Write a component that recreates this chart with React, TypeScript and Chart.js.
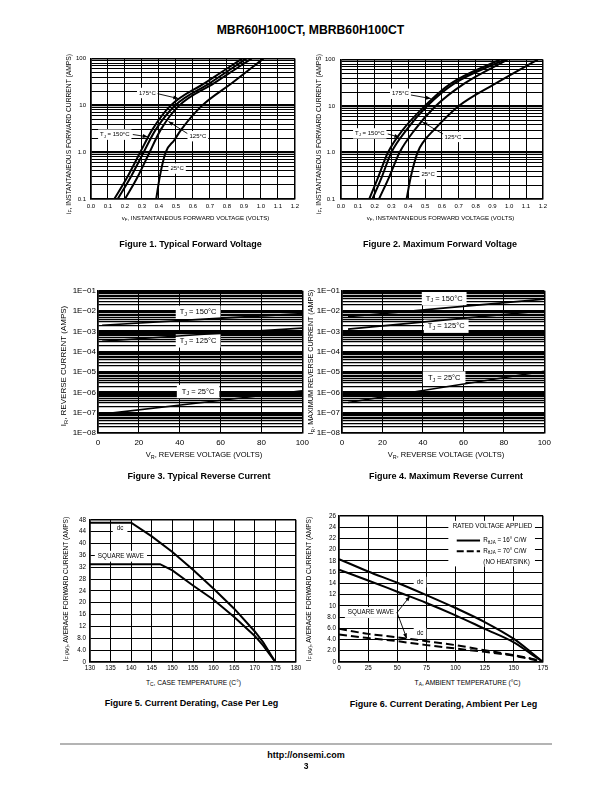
import React, { useEffect, useRef } from 'react';
import { Chart, registerables } from 'chart.js';

Chart.register(...registerables);

const FONT = '"Liberation Sans", Arial, Helvetica, sans-serif';

// ---------------- Figure 1: typical forward voltage ----------------
const FWD_CURRENT = [0.1, 0.3, 1, 3, 10, 30, 100];
const TYP_VF_175 = [0.137, 0.215, 0.29, 0.36, 0.47, 0.67, 0.89];
const TYP_VF_150 = [0.157, 0.235, 0.31, 0.38, 0.495, 0.7, 0.915];
const TYP_VF_125 = [0.2, 0.275, 0.345, 0.41, 0.52, 0.725, 0.945];
const TYP_CURRENT_25 = [0.1, 0.3, 1, 1.8, 3, 10, 30, 100];
const TYP_VF_25 = [0.384, 0.405, 0.44, 0.49, 0.53, 0.655, 0.83, 1.015];

// ---------------- Figure 2: maximum forward voltage ----------------
const MAX_VF_175 = [0.168, 0.222, 0.279, 0.365, 0.498, 0.65, 0.944];
const MAX_VF_150 = [0.187, 0.243, 0.299, 0.387, 0.512, 0.67, 0.973];
const MAX_VF_125 = [0.226, 0.287, 0.348, 0.436, 0.563, 0.73, 0.99];
const MAX_CURRENT_25 = [0.1, 0.3, 1, 1.7, 3, 10, 30, 100];
const MAX_VF_25 = [0.39, 0.415, 0.455, 0.49, 0.55, 0.7, 0.915, 1.17];

const VF_TICKS = [0, 0.1, 0.2, 0.3, 0.4, 0.5, 0.6, 0.7, 0.8, 0.9, 1.0, 1.1, 1.2];
const VF_TICK_LABELS = ['0.0', '0.1', '0.2', '0.3', '0.4', '0.5', '0.6', '0.7', '0.8', '0.9', '1.0', '1.1', '1.2'];
const IF_DECADES = [0.1, 1, 10, 100];
const IF_DECADE_LABELS = ['0.1', '1.0', '10', '100'];

// ---------------- Figure 3: typical reverse current ----------------
const TYP_VR = [2, 50, 100];
const TYP_IR_150 = [2.0e-3, 3.9e-3, 7.5e-3];
const TYP_IR_125 = [3.3e-4, 7.0e-4, 1.45e-3];
const TYP_IR_25 = [8.5e-8, 3.1e-7, 1.2e-6];

// ---------------- Figure 4: maximum reverse current ----------------
const MAX_VR = [3, 50, 100];
const MAX_IR_150 = [5.3e-3, 1.4e-2, 3.9e-2];
const MAX_IR_125 = [1.3e-3, 3.6e-3, 1.05e-2];
const MAX_IR_25 = [3.2e-7, 1.8e-6, 1.1e-5];

const VR_TICKS = [0, 20, 40, 60, 80, 100];
const VR_TICK_LABELS = ['0', '20', '40', '60', '80', '100'];
const IR_DECADES = [1e-8, 1e-7, 1e-6, 1e-5, 1e-4, 1e-3, 1e-2, 1e-1];
const IR_DECADE_LABELS = ['1E\u221208', '1E\u221207', '1E\u221206', '1E\u221205', '1E\u221204', '1E\u221203', '1E\u221202', '1E\u221201'];

// ---------------- Figure 5: derating, case ----------------
const CASE_TEMP_DC = [130, 140, 145, 150, 155, 160, 165, 170, 172, 175];
const CASE_IF_DC = [47, 47, 42.4, 37.1, 31.1, 24.7, 18, 10.3, 6.7, 0];
const CASE_TEMP_SQ = [130, 147, 150, 155, 160, 165, 170, 172, 175];
const CASE_IF_SQ = [33, 33, 30.9, 25.8, 21, 15.2, 8.8, 5.6, 0];
const CASE_T_TICKS = [130, 135, 140, 145, 150, 155, 160, 165, 170, 175, 180];
const CASE_T_LABELS = ['130', '135', '140', '145', '150', '155', '160', '165', '170', '175', '180'];
const CASE_I_TICKS = [0, 4, 8, 12, 16, 20, 24, 28, 32, 36, 40, 44, 48];
const CASE_I_LABELS = ['0', '4.0', '8.0', '12', '16', '20', '24', '28', '32', '36', '40', '44', '48'];

// ---------------- Figure 6: derating, ambient ----------------
const AMB_TEMP = [0, 25, 50, 75, 100, 125, 150, 165, 175];
const AMB_DC_16 = [18.3, 16.1, 14.1, 11.9, 9.6, 7.1, 4.1, 1.7, 0];
const AMB_SQ_16 = [16.4, 14.5, 12.5, 10.5, 8.3, 5.9, 3.5, 1.4, 0];
const AMB_DC_70 = [5.9, 5.0, 4.4, 3.7, 3.0, 2.1, 1.2, 0.6, 0];
const AMB_SQ_70 = [4.9, 4.25, 3.7, 3.0, 2.4, 1.8, 1.1, 0.5, 0];
const AMB_T_TICKS = [0, 25, 50, 75, 100, 125, 150, 175];
const AMB_T_LABELS = ['0', '25', '50', '75', '100', '125', '150', '175'];
const AMB_I_TICKS = [0, 2, 4, 6, 8, 10, 12, 14, 16, 18, 20, 22, 24, 26];
const AMB_I_LABELS = ['0', '2.0', '4.0', '6.0', '8.0', '10', '12', '14', '16', '18', '20', '22', '24', '26'];

// ------------------------------------------------------------------
type Part = { t: string; sub?: boolean };
type Label = { x: number; y: number; parts: Part[]; size: number; align?: 'left' | 'center'; box?: boolean; padX?: number; padY?: number };
type Arrow = { x1: number; y1: number; x2: number; y2: number };
type Seg = { x1: number; y1: number; x2: number; y2: number; dash?: number[]; width?: number };
type Rect = { x1: number; y1: number; x2: number; y2: number };
type Notes = { labels?: Label[]; arrows?: Arrow[]; segs?: Seg[]; rects?: Rect[] };

const P = (t: string, sub = false): Part => ({ t, sub });

function partFont(p: Part, size: number) {
  return `${p.sub ? size * 0.72 : size}px ${FONT}`;
}
function measure(ctx: CanvasRenderingContext2D, parts: Part[], size: number) {
  let w = 0;
  for (const p of parts) {
    ctx.font = partFont(p, size);
    w += ctx.measureText(p.t).width;
  }
  return w;
}

function notesPlugin(spec: Notes) {
  return {
    id: 'notes',
    beforeDatasetsDraw(chart: any) {
      const ctx: CanvasRenderingContext2D = chart.ctx;
      const X = chart.scales.x, Y = chart.scales.y;
      ctx.save();
      ctx.fillStyle = '#fff';
      for (const r of spec.rects || []) {
        const x1 = X.getPixelForValue(r.x1), x2 = X.getPixelForValue(r.x2);
        const y1 = Y.getPixelForValue(r.y1), y2 = Y.getPixelForValue(r.y2);
        ctx.fillRect(Math.min(x1, x2), Math.min(y1, y2), Math.abs(x2 - x1), Math.abs(y2 - y1));
      }
      for (const l of spec.labels || []) {
        if (l.box === false) continue;
        const w = measure(ctx, l.parts, l.size);
        const cx = X.getPixelForValue(l.x), cy = Y.getPixelForValue(l.y);
        const px = l.padX ?? 2, py = l.padY ?? 1.5;
        const left = l.align === 'left' ? cx : cx - w / 2;
        ctx.fillRect(left - px, cy - l.size * 0.62 - py, w + 2 * px, l.size * 1.24 + 2 * py);
      }
      ctx.restore();
    },
    afterDatasetsDraw(chart: any) {
      const ctx: CanvasRenderingContext2D = chart.ctx;
      const X = chart.scales.x, Y = chart.scales.y;
      ctx.save();
      ctx.strokeStyle = '#000';
      ctx.fillStyle = '#000';
      for (const s of spec.segs || []) {
        ctx.beginPath();
        ctx.setLineDash(s.dash || []);
        ctx.lineWidth = s.width ?? 2;
        ctx.moveTo(X.getPixelForValue(s.x1), Y.getPixelForValue(s.y1));
        ctx.lineTo(X.getPixelForValue(s.x2), Y.getPixelForValue(s.y2));
        ctx.stroke();
      }
      ctx.setLineDash([]);
      for (const a of spec.arrows || []) {
        const x1 = X.getPixelForValue(a.x1), y1 = Y.getPixelForValue(a.y1);
        const x2 = X.getPixelForValue(a.x2), y2 = Y.getPixelForValue(a.y2);
        ctx.lineWidth = 0.9;
        ctx.beginPath();
        ctx.moveTo(x1, y1);
        ctx.lineTo(x2, y2);
        ctx.stroke();
        const ang = Math.atan2(y2 - y1, x2 - x1);
        const L = 5, W = 2;
        const c = Math.cos(ang), s = Math.sin(ang);
        ctx.beginPath();
        ctx.moveTo(x2, y2);
        ctx.lineTo(x2 - L * c + W * s, y2 - L * s - W * c);
        ctx.lineTo(x2 - L * c - W * s, y2 - L * s + W * c);
        ctx.closePath();
        ctx.fill();
      }
      ctx.textBaseline = 'middle';
      ctx.textAlign = 'left';
      for (const l of spec.labels || []) {
        const w = measure(ctx, l.parts, l.size);
        const cx = X.getPixelForValue(l.x), cy = Y.getPixelForValue(l.y);
        let x = l.align === 'left' ? cx : cx - w / 2;
        for (const p of l.parts) {
          ctx.font = partFont(p, l.size);
          ctx.fillText(p.t, x, p.sub ? cy + l.size * 0.3 : cy);
          x += ctx.measureText(p.t).width;
        }
      }
      ctx.restore();
    },
  };
}

type Frame = { L: number; T: number; W: number; H: number; pl: number; pt: number; pr: number; pb: number };

function logGrid(decades: number[], labels: string[]) {
  const ticks: number[] = [];
  const lab: string[] = [];
  for (let d = 0; d < decades.length - 1; d++) {
    for (let m = 1; m <= 9; m++) {
      ticks.push(decades[d] * m);
      lab.push(m === 1 ? labels[d] : '');
    }
  }
  ticks.push(decades[decades.length - 1]);
  lab.push(labels[labels.length - 1]);
  return { ticks, labels: lab };
}

function isDecade(v: number) {
  const l = Math.log10(v);
  return Math.abs(l - Math.round(l)) < 1e-6;
}

function axis(o: {
  type: 'linear' | 'logarithmic';
  min: number;
  max: number;
  ticks: number[];
  labels: string[];
  size: number;
  pad: number;
  fit: (s: any) => void;
  width?: (v: number) => number;
}) {
  return {
    type: o.type,
    min: o.min,
    max: o.max,
    afterBuildTicks: (s: any) => {
      s.ticks = o.ticks.map((v) => ({ value: v }));
    },
    afterFit: o.fit,
    ticks: {
      autoSkip: false,
      maxRotation: 0,
      minRotation: 0,
      padding: o.pad,
      color: '#000',
      font: { family: FONT, size: o.size },
      callback: (_v: any, i: number) => o.labels[i] ?? '',
    },
    grid: {
      color: '#000',
      drawTicks: false,
      lineWidth: (ctx: any) => {
        const v = ctx.tick ? ctx.tick.value : NaN;
        if (Math.abs(v - o.min) < 1e-12 || Math.abs(v - o.max) < 1e-12) return 1.5;
        return o.width ? o.width(v) : 1;
      },
    },
    border: { color: '#000', width: 1.5 },
  };
}

const curve = (xs: number[], ys: number[], extra: any = {}) => ({
  data: xs.map((x, i) => ({ x, y: ys[i] })),
  borderColor: '#000',
  borderWidth: 2,
  pointRadius: 0,
  fill: false,
  tension: 0,
  ...extra,
});

function baseConfig(f: Frame, datasets: any[], x: any, y: any, notes: Notes) {
  return {
    type: 'line',
    data: { datasets },
    options: {
      responsive: false,
      animation: false,
      events: [],
      layout: { autoPadding: false, padding: { left: 0, top: f.pt, right: f.pr, bottom: 0 } },
      plugins: { legend: { display: false }, tooltip: { enabled: false }, title: { display: false } },
      scales: { x, y },
    },
    plugins: [notesPlugin(notes)],
  };
}

function ChartBox({ frame, build }: { frame: Frame; build: (f: Frame) => any }) {
  const ref = useRef<HTMLCanvasElement>(null);
  useEffect(() => {
    const chart = new Chart(ref.current as HTMLCanvasElement, build(frame));
    return () => chart.destroy();
  }, []);
  const w = frame.pl + frame.W + frame.pr;
  const h = frame.pt + frame.H + frame.pb;
  return (
    <div style={{ position: 'absolute', left: frame.L - frame.pl, top: frame.T - frame.pt, width: w, height: h }}>
      <canvas ref={ref} width={w} height={h} style={{ width: w, height: h }} />
    </div>
  );
}

// ---------- frames ----------
const F1: Frame = { L: 91, T: 56, W: 206, H: 143, pl: 32, pt: 6, pr: 6, pb: 16 };
const F2: Frame = { L: 341, T: 56, W: 204, H: 143, pl: 28, pt: 6, pr: 6, pb: 16 };
const F3: Frame = { L: 98, T: 290, W: 210, H: 143, pl: 38, pt: 6, pr: 6, pb: 18 };
const F4: Frame = { L: 342, T: 290, W: 206, H: 143, pl: 36, pt: 6, pr: 8, pb: 18 };
const F5: Frame = { L: 90, T: 518, W: 206, H: 144, pl: 24, pt: 6, pr: 8, pb: 14 };
const F6: Frame = { L: 339, T: 515, W: 204, H: 147, pl: 24, pt: 6, pr: 8, pb: 14 };

const fitX = (f: Frame) => (s: any) => { s.height = f.pb; };
const fitY = (f: Frame) => (s: any) => { s.width = f.pl; };

function forwardChart(f: Frame, sets: number[][], cur25: number[], notes: Notes, ypad: number) {
  const g = logGrid(IF_DECADES, IF_DECADE_LABELS);
  const mono = { cubicInterpolationMode: 'monotone' };
  return baseConfig(
    f,
    [
      curve(sets[0], FWD_CURRENT, mono),
      curve(sets[1], FWD_CURRENT, mono),
      curve(sets[2], FWD_CURRENT, mono),
      curve(sets[3], cur25, mono),
    ],
    axis({ type: 'linear', min: 0, max: 1.2, ticks: VF_TICKS, labels: VF_TICK_LABELS, size: 6, pad: 4, fit: fitX(f) }),
    axis({ type: 'logarithmic', min: 0.1, max: 100, ticks: g.ticks, labels: g.labels, size: 6, pad: ypad, fit: fitY(f), width: (v) => (isDecade(v) ? 2.2 : 1) }),
    notes,
  );
}

function reverseChart(f: Frame, vr: number[], sets: number[][], notes: Notes, ypad: number) {
  const g = logGrid(IR_DECADES, IR_DECADE_LABELS);
  return baseConfig(
    f,
    sets.map((s) => curve(vr, s, { borderWidth: 1.6 })),
    axis({ type: 'linear', min: 0, max: 100, ticks: VR_TICKS, labels: VR_TICK_LABELS, size: 8, pad: 5, fit: fitX(f) }),
    axis({ type: 'logarithmic', min: 1e-8, max: 1e-1, ticks: g.ticks, labels: g.labels, size: 8, pad: ypad, fit: fitY(f), width: (v) => (isDecade(v) ? 2.2 : 1.2) }),
    notes,
  );
}

const TJ = (t: string): Part[] => [P('T'), P('J', true), P(' = ' + t)];

const notes1: Notes = {
  labels: [
    { x: 0.332, y: 18.4, parts: [P('175°C')], size: 6 },
    { x: 0.14, y: 2.37, parts: TJ('150°C'), size: 6 },
    { x: 0.629, y: 2.2, parts: [P('125°C')], size: 6 },
    { x: 0.507, y: 0.447, parts: [P('25°C')], size: 6 },
  ],
  arrows: [
    { x1: 0.392, y1: 17.8, x2: 0.514, y2: 14.0 },
    { x1: 0.246, y1: 2.39, x2: 0.334, y2: 2.13 },
    { x1: 0.567, y1: 2.51, x2: 0.456, y2: 4.54 },
  ],
};
const notes2: Notes = {
  labels: [
    { x: 0.353, y: 18.4, parts: [P('175°C')], size: 6 },
    { x: 0.171, y: 2.58, parts: TJ('150°C'), size: 6 },
    { x: 0.665, y: 2.17, parts: [P('125°C')], size: 6 },
    { x: 0.518, y: 0.346, parts: [P('25°C')], size: 6 },
  ],
  arrows: [
    { x1: 0.416, y1: 17.3, x2: 0.534, y2: 14.5 },
    { x1: 0.278, y1: 2.51, x2: 0.347, y2: 2.13 },
    { x1: 0.606, y1: 2.51, x2: 0.484, y2: 4.54 },
  ],
};
const notes3: Notes = {
  labels: [
    { x: 49, y: 8.7e-3, parts: TJ('150°C'), size: 7.5, padX: 4, padY: 2 },
    { x: 49, y: 3.4e-4, parts: TJ('125°C'), size: 7.5, padX: 4, padY: 2 },
    { x: 49, y: 1.1e-6, parts: TJ('25°C'), size: 7.5, padX: 5, padY: 2 },
  ],
};
const notes4: Notes = {
  labels: [
    { x: 50.5, y: 4.1e-2, parts: TJ('150°C'), size: 7.5, padX: 4, padY: 2 },
    { x: 51.5, y: 1.8e-3, parts: TJ('125°C'), size: 7.5, padX: 4, padY: 2 },
    { x: 50.5, y: 5.1e-6, parts: TJ('25°C'), size: 7.5, padX: 5, padY: 2 },
  ],
};
const notes5: Notes = {
  labels: [
    { x: 137.3, y: 45.2, parts: [P('dc')], size: 6.3, padX: 4, padY: 2 },
    { x: 137.5, y: 35.7, parts: [P('SQUARE WAVE')], size: 6.3, padX: 3, padY: 1.5 },
  ],
};
const notes6: Notes = {
  rects: [{ x1: 93.8, y1: 25.1, x2: 168.1, y2: 17.0 }],
  segs: [
    { x1: 101, y1: 21.6, x2: 121, y2: 21.6, width: 2 },
    { x1: 101, y1: 19.7, x2: 121, y2: 19.7, width: 2, dash: [7, 3] },
  ],
  labels: [
    { x: 131.7, y: 24.2, parts: [P('RATED VOLTAGE APPLIED')], size: 6.3, box: false },
    { x: 123.8, y: 21.6, parts: [P('R'), P('θJA', true), P(' = 16° C/W')], size: 6.3, align: 'left', box: false },
    { x: 123.8, y: 19.7, parts: [P('R'), P('θJA', true), P(' = 70° C/W')], size: 6.3, align: 'left', box: false },
    { x: 123.8, y: 17.7, parts: [P('(NO HEATSINK)')], size: 6.3, align: 'left', box: false },
    { x: 69.5, y: 14.2, parts: [P('dc')], size: 6.3, padX: 3 },
    { x: 27.4, y: 8.8, parts: [P('SQUARE WAVE')], size: 6.3, padX: 3 },
    { x: 69.5, y: 5.1, parts: [P('dc')], size: 6.3, padX: 3 },
  ],
  arrows: [
    { x1: 49.8, y1: 8.8, x2: 60.9, y2: 11.7 },
    { x1: 49.8, y1: 8.8, x2: 58.1, y2: 4.2 },
  ],
};

const build1 = (f: Frame) => forwardChart(f, [TYP_VF_175, TYP_VF_150, TYP_VF_125, TYP_VF_25], TYP_CURRENT_25, notes1, 5);
const build2 = (f: Frame) => forwardChart(f, [MAX_VF_175, MAX_VF_150, MAX_VF_125, MAX_VF_25], MAX_CURRENT_25, notes2, 6);
const build3 = (f: Frame) => reverseChart(f, TYP_VR, [TYP_IR_150, TYP_IR_125, TYP_IR_25], notes3, 2);
const build4 = (f: Frame) => reverseChart(f, MAX_VR, [MAX_IR_150, MAX_IR_125, MAX_IR_25], notes4, 2);
const build5 = (f: Frame) =>
  baseConfig(
    f,
    [curve(CASE_TEMP_DC, CASE_IF_DC), curve(CASE_TEMP_SQ, CASE_IF_SQ)],
    axis({ type: 'linear', min: 130, max: 180, ticks: CASE_T_TICKS, labels: CASE_T_LABELS, size: 6.3, pad: 2, fit: fitX(f) }),
    axis({ type: 'linear', min: 0, max: 48, ticks: CASE_I_TICKS, labels: CASE_I_LABELS, size: 6.3, pad: 4, fit: fitY(f) }),
    notes5,
  );
const build6 = (f: Frame) => {
  const mono = { cubicInterpolationMode: 'monotone' };
  return baseConfig(
    f,
    [
      curve(AMB_TEMP, AMB_DC_16, mono),
      curve(AMB_TEMP, AMB_SQ_16, mono),
      curve(AMB_TEMP, AMB_DC_70, { ...mono, borderDash: [8, 4] }),
      curve(AMB_TEMP, AMB_SQ_70, { ...mono, borderDash: [8, 4] }),
    ],
    axis({ type: 'linear', min: 0, max: 175, ticks: AMB_T_TICKS, labels: AMB_T_LABELS, size: 6.3, pad: 2, fit: fitX(f) }),
    axis({ type: 'linear', min: 0, max: 26, ticks: AMB_I_TICKS, labels: AMB_I_LABELS, size: 6.3, pad: 3, fit: fitY(f) }),
    notes6,
  );
};

const Sub = ({ children }: { children: any }) => (
  <sub style={{ fontSize: '72%', verticalAlign: '-0.3em', lineHeight: 0 }}>{children}</sub>
);

function Txt({ x, y, size, bold, rot, children }: { x: number; y: number; size: number; bold?: boolean; rot?: boolean; children: any }) {
  return (
    <div
      style={{
        position: 'absolute',
        left: x,
        top: y,
        transform: `translate(-50%, -50%)${rot ? ' rotate(-90deg)' : ''}`,
        fontSize: size,
        fontWeight: bold ? 'bold' : 'normal',
        whiteSpace: 'nowrap',
        lineHeight: 1,
        fontFamily: FONT,
        color: '#000',
      }}
    >
      {children}
    </div>
  );
}

export default function App() {
  return (
    <div style={{ position: 'absolute', left: 0, top: 0, width: 612, height: 792, background: '#fff', overflow: 'hidden' }}>
      <ChartBox frame={F1} build={build1} />
      <ChartBox frame={F2} build={build2} />
      <ChartBox frame={F3} build={build3} />
      <ChartBox frame={F4} build={build4} />
      <ChartBox frame={F5} build={build5} />
      <ChartBox frame={F6} build={build6} />

      <Txt x={310.5} y={30} size={12.2} bold>MBR60H100CT, MBRB60H100CT</Txt>

      <Txt x={195.5} y={218} size={6.1}>v<Sub>F</Sub>, INSTANTANEOUS FORWARD VOLTAGE (VOLTS)</Txt>
      <Txt x={69} y={134} size={6.7} rot>i<Sub>F</Sub>, INSTANTANEOUS FORWARD CURRENT (AMPS)</Txt>
      <Txt x={440.5} y={218} size={6.1}>v<Sub>F</Sub>, INSTANTANEOUS FORWARD VOLTAGE (VOLTS)</Txt>
      <Txt x={319} y={134} size={6.7} rot>i<Sub>F</Sub>, INSTANTANEOUS FORWARD CURRENT (AMPS)</Txt>
      <Txt x={190.5} y={244} size={9} bold>Figure 1. Typical Forward Voltage</Txt>
      <Txt x={440} y={244} size={9} bold>Figure 2. Maximum Forward Voltage</Txt>

      <Txt x={204} y={455} size={7.5}>V<Sub>R</Sub>, REVERSE VOLTAGE (VOLTS)</Txt>
      <Txt x={64} y={366} size={8} rot>I<Sub>R</Sub>, REVERSE CURRENT (AMPS)</Txt>
      <Txt x={446} y={455} size={7.5}>V<Sub>R</Sub>, REVERSE VOLTAGE (VOLTS)</Txt>
      <Txt x={311} y={362} size={7.2} rot>I<Sub>R</Sub>, MAXIMUM REVERSE CURRENT (AMPS)</Txt>
      <Txt x={199} y={476} size={9} bold>Figure 3. Typical Reverse Current</Txt>
      <Txt x={446} y={476} size={9} bold>Figure 4. Maximum Reverse Current</Txt>

      <Txt x={193.5} y={683} size={6.7}>T<Sub>C</Sub>, CASE TEMPERATURE (C°)</Txt>
      <Txt x={66} y={589} size={6.6} rot>I<Sub>F (AV)</Sub>, AVERAGE FORWARD CURRENT (AMPS)</Txt>
      <Txt x={467.5} y={683} size={6.7}>T<Sub>A</Sub>, AMBIENT TEMPERATURE (°C)</Txt>
      <Txt x={309} y={589} size={6.6} rot>I<Sub>F (AV)</Sub>, AVERAGE FORWARD CURRENT (AMPS)</Txt>
      <Txt x={191.5} y={703} size={9} bold>Figure 5. Current Derating, Case Per Leg</Txt>
      <Txt x={443.5} y={704} size={9} bold>Figure 6. Current Derating, Ambient Per Leg</Txt>

      <div style={{ position: 'absolute', left: 60, top: 743, width: 492, height: 1.5, background: '#b4b4b4' }} />
      <Txt x={306} y={755} size={9} bold>http://onsemi.com</Txt>
      <Txt x={306} y={765.5} size={8.5} bold>3</Txt>
    </div>
  );
}
